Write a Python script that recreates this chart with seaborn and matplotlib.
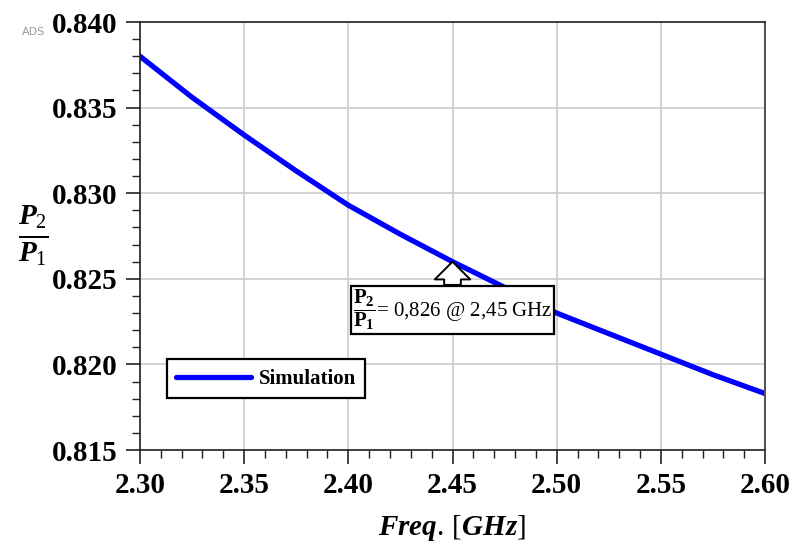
import numpy as np
import pandas as pd
import matplotlib
matplotlib.use("Agg")
import matplotlib.pyplot as plt
import seaborn as sns

# values
freq = [2.300, 2.325, 2.350, 2.375, 2.400, 2.425, 2.450, 2.475, 2.500, 2.525, 2.550, 2.575, 2.600]
ratio = [0.8380, 0.8356, 0.8334, 0.8313, 0.8293, 0.8276, 0.8260, 0.8245, 0.8230, 0.8218, 0.8206, 0.8194, 0.8183]
x_ticks = [2.30, 2.35, 2.40, 2.45, 2.50, 2.55, 2.60]
y_ticks = [0.815, 0.820, 0.825, 0.830, 0.835, 0.840]
marker_f, marker_r = 2.45, 0.826

df = pd.DataFrame({"Freq": freq, "Ratio": ratio, "Series": "Simulation"})

sns.set_style("white")
plt.rcParams['font.family'] = ['Liberation Serif', 'DejaVu Serif']
plt.rcParams['text.color'] = 'black'
plt.rcParams['xtick.color'] = 'black'
plt.rcParams['ytick.color'] = 'black'
plt.rcParams['axes.labelcolor'] = 'black'
plt.rcParams['mathtext.fontset'] = 'custom'
plt.rcParams['mathtext.rm'] = 'Liberation Serif'
plt.rcParams['mathtext.it'] = 'Liberation Serif:italic:bold'
plt.rcParams['mathtext.bf'] = 'Liberation Serif:bold'

fig = plt.figure(figsize=(7.94, 5.42), dpi=100)
ax = fig.add_axes([0.1763, 0.1697, 0.7872, 0.7897])

sns.lineplot(data=df, x="Freq", y="Ratio", hue="Series", palette=["#0000ff"],
             linewidth=3.8, ax=ax)

ax.set_xlim(2.30, 2.60)
ax.set_ylim(0.815, 0.840)
ax.set_xticks(x_ticks)
ax.set_yticks(y_ticks)
ax.set_xticklabels([f"{v:.2f}" for v in x_ticks], fontweight='bold', fontsize=21)
ax.set_yticklabels([f"{v:.3f}" for v in y_ticks], fontweight='bold', fontsize=21)
ax.set_xticks(np.arange(2.30, 2.6001, 0.01), minor=True)
ax.set_yticks(np.arange(0.815, 0.84001, 0.001), minor=True)
ax.tick_params(which='major', direction='out', length=10, width=1.2, color='#222222', pad=6)
ax.tick_params(which='minor', direction='out', length=6, width=1.0, color='#222222')
ax.tick_params(axis='x', which='both', bottom=True)
ax.tick_params(axis='y', which='both', left=True)
ax.grid(True, which='major', color='#cccccc', linewidth=1.2)

for side in ['left', 'bottom', 'top']:
    ax.spines[side].set_color('#222222')
    ax.spines[side].set_linewidth(1.2)
ax.spines['right'].set_color('#555555')
ax.spines['right'].set_linewidth(1.5)

ax.set_xlabel(r"$\it{Freq}.\,[\it{GHz}]$", fontsize=21, labelpad=10)
ax.set_ylabel(r"$\frac{P_{\mathit{2}}}{P_{\mathit{1}}}$", fontsize=30, rotation=0, va='center')
ax.yaxis.set_label_coords(-0.17, 0.5)

ax.annotate(r"$\mathbf{\dfrac{P_2}{P_1}}$= 0,826 @ 2,45 GHz",
            xy=(marker_f, marker_r), xytext=(2.45, 0.8232),
            ha='center', va='center', fontsize=15,
            bbox=dict(boxstyle='square,pad=0.08', fc='white', ec='black', lw=1.6),
            arrowprops=dict(arrowstyle='simple,head_length=0.85,head_width=1.7,tail_width=0.8',
                            fc='white', ec='black', lw=1.4, shrinkA=0, shrinkB=0))

leg = ax.legend(loc='lower left', bbox_to_anchor=(0.043, 0.121), borderaxespad=0,
                frameon=True, fancybox=False, framealpha=1, edgecolor='black',
                handlelength=3.6, handletextpad=0.35, borderpad=0.45,
                prop={'weight': 'bold', 'size': 15})
leg.get_frame().set_linewidth(1.6)

fig.text(0.027, 0.935, "ADS", fontsize=8, color='#999999', family='DejaVu Sans')

fig.savefig("out.png", dpi=100)
